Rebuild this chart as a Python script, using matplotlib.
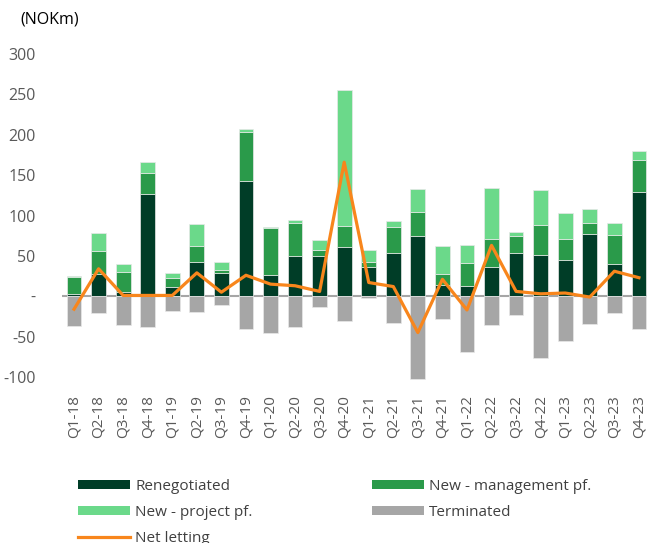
import matplotlib
matplotlib.use("Agg")
import matplotlib.pyplot as plt
from matplotlib.patches import Patch
from matplotlib.lines import Line2D
import numpy as np

plt.rcParams['font.family'] = ['Open Sans', 'DejaVu Sans']

quarters = ['Q1-18', 'Q2-18', 'Q3-18', 'Q4-18', 'Q1-19', 'Q2-19', 'Q3-19', 'Q4-19',
            'Q1-20', 'Q2-20', 'Q3-20', 'Q4-20', 'Q1-21', 'Q2-21', 'Q3-21', 'Q4-21',
            'Q1-22', 'Q2-22', 'Q3-22', 'Q4-22', 'Q1-23', 'Q2-23', 'Q3-23', 'Q4-23']
renegotiated = [3, 27, 5, 127, 11, 42, 29, 143, 26, 50, 50, 61,
                36, 53, 74, 14, 13, 36, 53, 51, 45, 77, 40, 129]
new_mgmt = [21, 29, 25, 26, 12, 20, 4, 61, 59, 41, 7, 26,
            6, 33, 30, 14, 28, 35, 22, 37, 26, 14, 36, 40]
new_project = [1, 22, 10, 13, 6, 27, 10, 3, 1, 3, 13, 169,
               15, 7, 29, 34, 23, 63, 5, 43, 32, 17, 15, 11]
terminated = [-37, -21, -35, -38, -18, -19, -11, -40, -46, -38, -13, -31,
              -2, -33, -103, -28, -69, -35, -23, -77, -55, -34, -21, -40]
net_letting = [-16, 34, 1, 1, 1, 29, 5, 26, 15, 13, 6, 166,
               17, 12, -45, 21, -17, 63, 6, 3, 4, -1, 31, 23]

c_reneg = '#003d27'
c_mgmt = '#2a9a4a'
c_proj = '#6bd98a'
c_term = '#a6a6a6'
c_net = '#f8861c'

fig = plt.figure(figsize=(6.47, 5.43), dpi=100)
ax = fig.add_axes([62 / 647, (543 - 377) / 543, 1 - 62 / 647, (377 - 54) / 543])

x = np.arange(len(quarters))
w = 0.6
r = np.array(renegotiated)
m = np.array(new_mgmt)
p = np.array(new_project)

ax.axhline(0, color='#a6a6a6', lw=1.5, zorder=1)
kw = dict(width=w, edgecolor='#e8e8e8', linewidth=0.5, zorder=2)
ax.bar(x, r, color=c_reneg, **kw)
ax.bar(x, m, bottom=r, color=c_mgmt, **kw)
ax.bar(x, p, bottom=r + m, color=c_proj, **kw)
ax.bar(x, terminated, color=c_term, clip_on=False, **kw)
ax.plot(x, net_letting, color=c_net, lw=2.3, zorder=3)

ax.set_xlim(-0.49, 23.33)
ax.set_ylim(-100, 300)
ax.set_yticks([300, 250, 200, 150, 100, 50, 0, -50, -100])
ax.set_yticklabels(['300', '250', '200', '150', '100', '50', '-', '-50', '-100'])
ax.set_xticks(x)
ax.set_xticklabels(quarters, rotation=90)
ax.tick_params(axis='y', length=0, pad=19, labelsize=11.5, labelcolor='#595959')
ax.tick_params(axis='x', length=0, pad=13, labelsize=11, labelcolor='#595959')
for s in ax.spines.values():
    s.set_visible(False)

fig.text(20 / 647, 1 - 20 / 543, '(NOKm)', fontsize=11.5, color='black', va='center', ha='left')

h_reneg = Patch(facecolor=c_reneg, label='Renegotiated')
h_mgmt = Patch(facecolor=c_mgmt, label='New - management pf.')
h_proj = Patch(facecolor=c_proj, label='New - project pf.')
h_term = Patch(facecolor=c_term, label='Terminated')
h_net = Line2D([], [], color=c_net, lw=2.3, label='Net letting')
fig.legend(handles=[h_reneg, h_proj, h_net, h_mgmt, h_term], ncol=2,
           loc='upper left', bbox_to_anchor=(78 / 647, 1 - 479 / 543),
           frameon=False, fontsize=11, labelcolor='#404040',
           handlelength=3.4, handleheight=0.6, handletextpad=0.35,
           columnspacing=7.8, labelspacing=0.72, borderpad=0, borderaxespad=0)

fig.savefig('out.png', dpi=100)
